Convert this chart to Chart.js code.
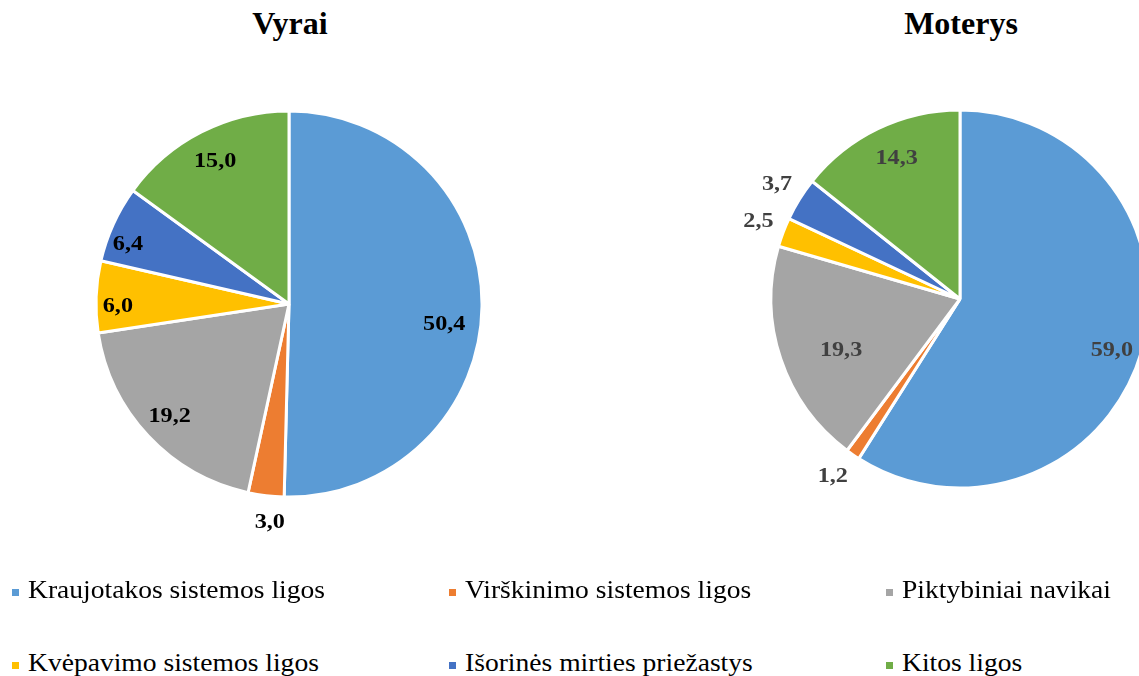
<!DOCTYPE html>
<html>
<head>
<meta charset="utf-8">
<script src="https://cdn.jsdelivr.net/npm/chart.js@4"></script>
<style>
  html, body { margin: 0; padding: 0; background: #fff; overflow: hidden; }
  body { width: 1139px; height: 676px; position: relative; font-family: "Liberation Serif", "Times New Roman", serif; }
  .ttl { position: absolute; top: 5px; font-weight: bold; font-size: 32px; text-align: center; width: 300px; }
  .box { position: absolute; }
  .mark { position: absolute; width: 7px; height: 7px; }
  .leg { position: absolute; font-size: 26px; color: #000; white-space: nowrap; transform: scaleX(1.06); transform-origin: left center; }
</style>
</head>
<body>
<div class="ttl" style="left:140px">Vyrai</div>
<div class="ttl" style="left:811px">Moterys</div>
<div class="box" style="left:0;top:0;width:578px;height:608px"><canvas id="vyrai"></canvas></div>
<div class="box" style="left:670px;top:0;width:580px;height:598px"><canvas id="moterys"></canvas></div>
<div id="legenda"></div>
<script>
const kategorijos = ["Kraujotakos sistemos ligos", "Virškinimo sistemos ligos", "Piktybiniai navikai",
  "Kvėpavimo sistemos ligos", "Išorinės mirties priežastys", "Kitos ligos"];
const vyrai = [50.4, 3.0, 19.2, 6.0, 6.4, 15.0];
const moterys = [59.0, 1.2, 19.3, 2.5, 3.7, 14.3];
const spalvos = ["#5B9BD5", "#ED7D31", "#A5A5A5", "#FFC000", "#4472C4", "#70AD47"];

// legend, 3 columns x 2 rows (marker x, row top)
const legPos = [[12, 575], [449, 575], [886, 575], [12, 648], [449, 648], [886, 648]];
const leg = document.getElementById("legenda");
kategorijos.forEach((k, i) => {
  const m = document.createElement("div");
  m.className = "mark";
  m.style.background = spalvos[i];
  m.style.left = legPos[i][0] + "px";
  m.style.top = (legPos[i][1] + 14) + "px";
  leg.appendChild(m);
  const d = document.createElement("div");
  d.className = "leg";
  d.style.left = (legPos[i][0] + 16) + "px";
  d.style.top = legPos[i][1] + "px";
  d.textContent = k;
  leg.appendChild(d);
});

// value labels: inside the slice, or just outside for small slices
const etiketes = {
  id: "etiketes",
  afterDatasetsDraw(chart, args, opts) {
    const ctx = chart.ctx;
    const meta = chart.getDatasetMeta(0);
    const data = chart.data.datasets[0].data;
    ctx.save();
    ctx.font = "bold 22px 'Liberation Serif'";
    ctx.fillStyle = opts.color;
    ctx.textAlign = "center";
    ctx.textBaseline = "middle";
    meta.data.forEach((arc, i) => {
      const p = arc.getProps(["x", "y", "startAngle", "endAngle", "outerRadius"], true);
      const mid = (p.startAngle + p.endAngle) / 2;
      const f = data[i] < 4 ? 1.14 : 0.82;
      const nud = (opts.nudge && opts.nudge[i]) || [0, 0];
      const x = p.x + Math.cos(mid) * p.outerRadius * f + nud[0];
      const y = p.y + Math.sin(mid) * p.outerRadius * f + nud[1];
      ctx.save();
      ctx.translate(x, y);
      ctx.scale(1.1, 1);
      ctx.fillText(data[i].toFixed(1).replace(".", ","), 0, 0);
      ctx.restore();
    });
    ctx.restore();
  }
};

function piesk(id, reiksmes, r, spalva, nudge) {
  new Chart(document.getElementById(id), {
    type: "pie",
    data: {
      labels: kategorijos,
      datasets: [{
        data: reiksmes,
        backgroundColor: spalvos,
        borderColor: "#fff",
        borderWidth: 3
      }]
    },
    options: {
      responsive: true,
      maintainAspectRatio: false,
      animation: false,
      radius: r,
      layout: { padding: 0 },
      plugins: {
        legend: { display: false },
        tooltip: { enabled: false },
        etiketes: { color: spalva, nudge: nudge }
      }
    },
    plugins: [etiketes]
  });
}

piesk("vyrai", vyrai, 193, "#000", [[-3, 18], [7, 0], [-4, 4], [-13, 8], [-17, 6], [-2, -2]]);
piesk("moterys", moterys, 189, "#404040", [[3, 8], [-5, 0], [28, 2], [0, -2], [0, -1], [4, -1]]);
</script>
</body>
</html>
